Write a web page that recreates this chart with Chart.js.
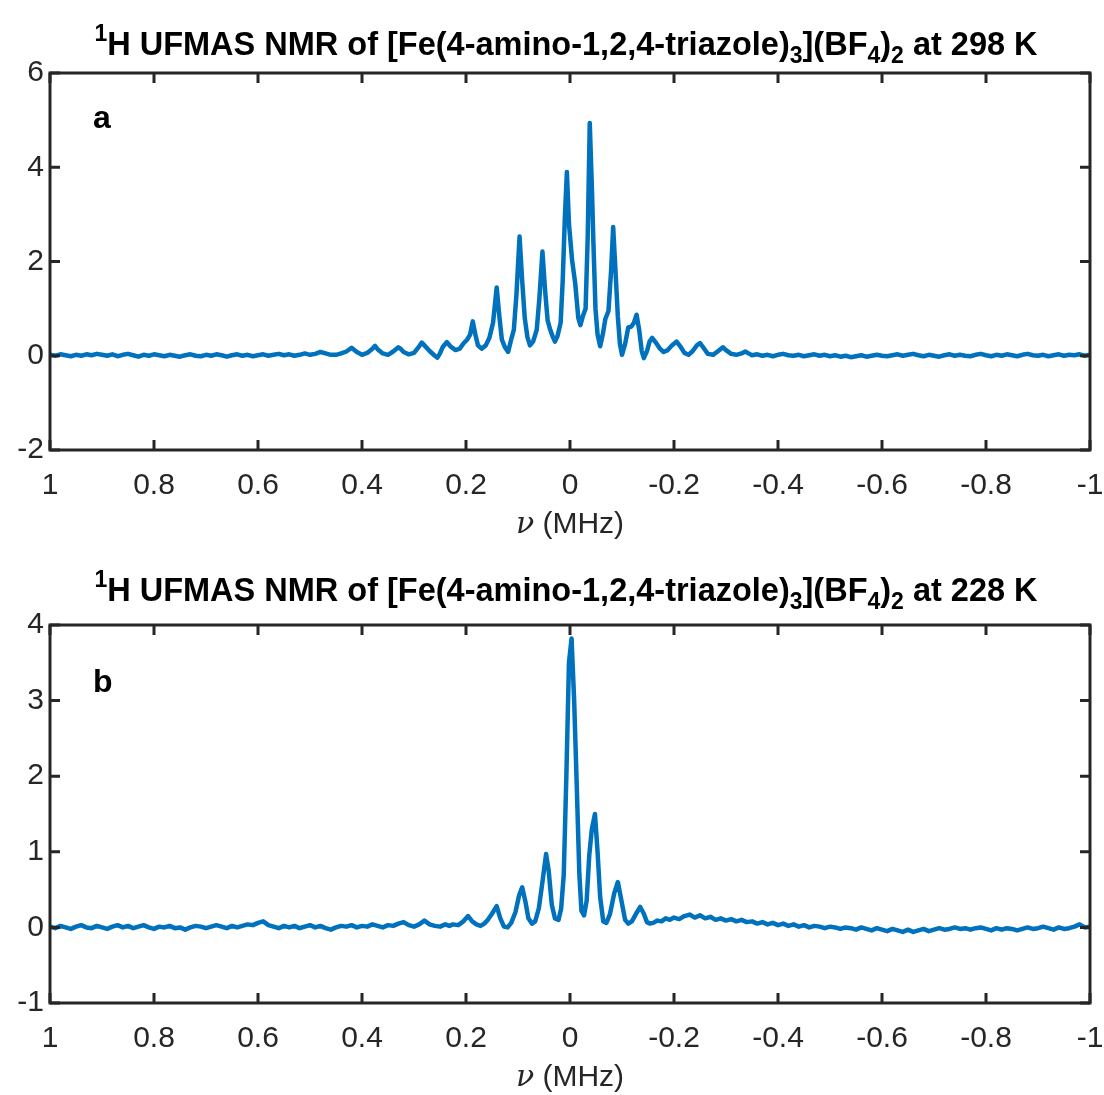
<!DOCTYPE html>
<html>
<head>
<meta charset="utf-8">
<script src="https://cdn.jsdelivr.net/npm/chart.js@4.4.0/dist/chart.umd.min.js"></script>
<style>
  body { margin: 0; background: #fff; }
  .panel { position: relative; width: 1104px; }
  canvas { display: block; }
</style>
</head>
<body>
<div class="panel" style="height:548px"><canvas id="chartA" width="1104" height="548"></canvas></div>
<div class="panel" style="height:547px"><canvas id="chartB" width="1104" height="547"></canvas></div>
<script>
// Axis ticks
const xTicks = [1, 0.8, 0.6, 0.4, 0.2, 0, -0.2, -0.4, -0.6, -0.8, -1];
const xTickLabels = ['1', '0.8', '0.6', '0.4', '0.2', '0', '-0.2', '-0.4', '-0.6', '-0.8', '-1'];
const yTicksA = [-2, 0, 2, 4, 6];
const yTicksB = [-1, 0, 1, 2, 3, 4];

// Spectrum a: 298 K (frequency in MHz, intensity)
const nuA = [
  1.00, 0.99, 0.98, 0.97, 0.96, 0.95, 0.94, 0.93, 0.92, 0.91, 0.90, 0.89, 0.88, 0.87, 0.86, 0.85, 0.84, 0.83, 0.82, 0.81,
  0.80, 0.79, 0.78, 0.77, 0.76, 0.75, 0.74, 0.73, 0.72, 0.71, 0.70, 0.69, 0.68, 0.67, 0.66, 0.65, 0.64, 0.63, 0.62, 0.61,
  0.60, 0.59, 0.58, 0.57, 0.56, 0.55, 0.54, 0.53, 0.52, 0.51, 0.50, 0.49, 0.48, 0.47, 0.46,
  0.45, 0.44, 0.43, 0.42, 0.41, 0.40, 0.39, 0.38, 0.375, 0.37, 0.36, 0.35, 0.34, 0.33, 0.325, 0.32, 0.31, 0.30,
  0.29, 0.285, 0.28, 0.27, 0.26, 0.255, 0.25, 0.245, 0.237, 0.23, 0.22, 0.212, 0.205, 0.198, 0.192, 0.187, 0.182,
  0.177, 0.17, 0.162, 0.155, 0.148, 0.141, 0.136, 0.131, 0.125, 0.119, 0.113, 0.108, 0.103, 0.097, 0.092, 0.087,
  0.082, 0.077, 0.071, 0.064, 0.059, 0.053, 0.048, 0.043, 0.038, 0.033, 0.029, 0.024, 0.018, 0.014, 0.010, 0.006,
  0.002, -0.004, -0.010, -0.016, -0.020, -0.025, -0.030, -0.034, -0.038, -0.042, -0.045, -0.049, -0.053, -0.058,
  -0.063, -0.068, -0.074, -0.079, -0.083, -0.087, -0.092, -0.096, -0.100, -0.106, -0.112, -0.118, -0.123, -0.128,
  -0.133, -0.138, -0.142, -0.148, -0.153, -0.158, -0.165, -0.173, -0.180, -0.188, -0.196, -0.205, -0.212, -0.22,
  -0.228, -0.236, -0.244, -0.250, -0.256, -0.265, -0.275, -0.285, -0.294, -0.30, -0.31, -0.32, -0.33, -0.337,
  -0.345, -0.35,
  -0.36, -0.37, -0.38, -0.39, -0.40, -0.41, -0.42, -0.43, -0.44, -0.45, -0.46, -0.47, -0.48, -0.49, -0.50,
  -0.51, -0.52, -0.53, -0.54, -0.55, -0.56, -0.57, -0.58, -0.59, -0.60, -0.61, -0.62, -0.63, -0.64, -0.65,
  -0.66, -0.67, -0.68, -0.69, -0.70, -0.71, -0.72, -0.73, -0.74, -0.75, -0.76, -0.77, -0.78, -0.79, -0.80,
  -0.81, -0.82, -0.83, -0.84, -0.85, -0.86, -0.87, -0.88, -0.89, -0.90, -0.91, -0.92, -0.93, -0.94, -0.95,
  -0.96, -0.97, -0.98, -0.99, -1.00
];
const intA = [
  0.02, 0.00, 0.03, 0.01, -0.01, 0.02, 0.00, 0.03, 0.01, 0.04, 0.02, 0.00, 0.03, -0.01, 0.02, 0.04, 0.01, -0.02, 0.02, 0.00,
  0.03, 0.01, -0.01, 0.02, 0.00, -0.02, 0.01, 0.03, 0.00, -0.01, 0.02, 0.00, 0.03, 0.01, -0.02, 0.01, 0.03, 0.00, 0.02, -0.01,
  0.01, 0.03, 0.00, 0.02, 0.04, 0.01, 0.03, 0.00, 0.02, 0.05, 0.02, 0.04, 0.08, 0.05, 0.02,
  0.02, 0.05, 0.09, 0.17, 0.08, 0.02, 0.06, 0.15, 0.21, 0.14, 0.05, 0.02, 0.09, 0.18, 0.14, 0.08, 0.03, 0.06,
  0.20, 0.28, 0.22, 0.10, 0.00, -0.04, 0.05, 0.18, 0.29, 0.20, 0.12, 0.15, 0.26, 0.34, 0.45, 0.73, 0.45,
  0.22, 0.15, 0.22, 0.38, 0.70, 1.45, 0.85, 0.34, 0.18, 0.08, 0.35, 0.55, 1.30, 2.53, 1.60, 0.80,
  0.40, 0.22, 0.30, 0.55, 1.20, 2.21, 1.40, 0.75, 0.55, 0.40, 0.30, 0.42, 0.70, 1.60, 2.90, 3.90,
  2.80, 2.03, 1.54, 0.80, 0.65, 0.85, 1.00, 2.50, 4.94, 3.60, 2.40, 1.00, 0.45, 0.20,
  0.45, 0.78, 0.95, 1.80, 2.73, 1.90, 0.83, 0.25, 0.02, 0.25, 0.60, 0.62, 0.70, 0.87,
  0.55, 0.10, -0.05, 0.10, 0.30, 0.38, 0.28, 0.15, 0.08, 0.12, 0.22, 0.30, 0.20, 0.06,
  0.02, 0.10, 0.22, 0.27, 0.18, 0.04, 0.02, 0.10, 0.18, 0.12, 0.04, 0.02, 0.05, 0.09,
  0.04, 0.01,
  0.03, 0.00, 0.02, -0.01, 0.02, 0.04, 0.01, 0.00, 0.02, -0.01, 0.01, 0.03, 0.00, 0.02, -0.01,
  0.01, -0.02, 0.00, -0.03, -0.01, 0.01, -0.02, 0.00, 0.02, 0.00, -0.01, 0.01, 0.03, 0.00, 0.02,
  0.04, 0.01, -0.01, 0.02, 0.00, -0.02, 0.01, 0.03, 0.00, 0.02, 0.00, -0.01, 0.02, 0.04, 0.01,
  -0.01, 0.02, 0.00, 0.03, 0.01, -0.01, 0.02, 0.04, 0.01, 0.00, 0.02, -0.01, 0.01, 0.03, 0.00,
  0.02, 0.01, 0.03, 0.00, 0.02
];

// Spectrum b: 228 K
const nuB = [
  1.00, 0.99, 0.98, 0.97, 0.96, 0.95, 0.94, 0.93, 0.92, 0.91, 0.90, 0.89, 0.88, 0.87, 0.86, 0.85, 0.84, 0.83, 0.82, 0.81,
  0.80, 0.79, 0.78, 0.77, 0.76, 0.75, 0.74, 0.73, 0.72, 0.71, 0.70, 0.69, 0.68, 0.67, 0.66, 0.65, 0.64, 0.63, 0.62, 0.61,
  0.60, 0.59, 0.58, 0.57, 0.56, 0.55, 0.54, 0.53, 0.52, 0.51, 0.50, 0.49, 0.48, 0.47, 0.46, 0.45, 0.44, 0.43, 0.42, 0.41,
  0.40, 0.39, 0.38, 0.37, 0.36, 0.35, 0.34, 0.33, 0.32, 0.31, 0.30, 0.29, 0.28, 0.27, 0.26,
  0.25, 0.24, 0.232, 0.225, 0.215, 0.205, 0.196, 0.188, 0.18, 0.172, 0.165, 0.158, 0.150, 0.141, 0.134, 0.127,
  0.12, 0.113, 0.105, 0.098, 0.092, 0.086, 0.08, 0.073, 0.067, 0.06, 0.053, 0.046, 0.041, 0.035, 0.029, 0.022,
  0.017, 0.012, 0.007, 0.002, -0.003, -0.008, -0.013, -0.018, -0.022, -0.027, -0.032, -0.037, -0.042, -0.048,
  -0.053, -0.058, -0.064, -0.07, -0.077, -0.085, -0.092, -0.099, -0.106, -0.112, -0.119, -0.127, -0.135, -0.142,
  -0.148, -0.154, -0.16, -0.168, -0.176, -0.184, -0.192,
  -0.20, -0.21, -0.22, -0.23, -0.24, -0.25, -0.26, -0.27, -0.28, -0.29, -0.30, -0.31, -0.32, -0.33, -0.34,
  -0.35, -0.36, -0.37, -0.38, -0.39, -0.40, -0.41, -0.42, -0.43, -0.44, -0.45, -0.46, -0.47, -0.48, -0.49,
  -0.50, -0.51, -0.52, -0.53, -0.54, -0.55, -0.56, -0.57, -0.58, -0.59, -0.60, -0.61, -0.62, -0.63, -0.64,
  -0.65, -0.66, -0.67, -0.68, -0.69, -0.70, -0.71, -0.72, -0.73, -0.74, -0.75, -0.76, -0.77, -0.78, -0.79,
  -0.80, -0.81, -0.82, -0.83, -0.84, -0.85, -0.86, -0.87, -0.88, -0.89, -0.90, -0.91, -0.92, -0.93, -0.94,
  -0.95, -0.96, -0.97, -0.98, -0.99, -1.00
];
const intB = [
  0.01, -0.01, 0.02, 0.00, -0.02, 0.01, 0.03, 0.00, -0.01, 0.02, 0.00, -0.02, 0.01, 0.03, 0.00, 0.02, -0.01, 0.01, 0.03, 0.00,
  -0.02, 0.01, 0.00, 0.02, -0.01, 0.00, -0.03, 0.00, 0.02, 0.01, -0.01, 0.01, 0.03, 0.01, -0.01, 0.02, 0.00, 0.02, 0.04, 0.03,
  0.06, 0.08, 0.03, 0.01, -0.01, 0.02, 0.00, 0.02, -0.01, 0.01, 0.03, 0.00, 0.02, -0.01, -0.03, 0.00, 0.02, 0.01, 0.03, 0.00,
  0.02, 0.01, 0.04, 0.02, 0.00, 0.03, 0.02, 0.05, 0.07, 0.03, 0.01, 0.04, 0.09, 0.04, 0.02,
  0.01, 0.04, 0.02, 0.04, 0.03, 0.08, 0.15, 0.08, 0.04, 0.02, 0.05, 0.10, 0.18, 0.28, 0.12, 0.01,
  0.00, 0.06, 0.20, 0.42, 0.53, 0.35, 0.12, 0.05, 0.08, 0.25, 0.60, 0.97, 0.75, 0.30, 0.12, 0.10,
  0.25, 0.70, 2.00, 3.50, 3.82, 3.00, 1.87, 0.70, 0.22, 0.16, 0.35, 0.95, 1.30, 1.50,
  1.00, 0.40, 0.08, 0.06, 0.18, 0.45, 0.60, 0.35, 0.10, 0.05, 0.08, 0.18, 0.27, 0.18,
  0.07, 0.05, 0.06, 0.09, 0.08, 0.12, 0.10,
  0.13, 0.11, 0.15, 0.17, 0.13, 0.16, 0.12, 0.14, 0.10, 0.12, 0.09, 0.11, 0.08, 0.10, 0.07,
  0.08, 0.05, 0.07, 0.04, 0.06, 0.03, 0.05, 0.02, 0.04, 0.01, 0.03, 0.00, 0.02, 0.01, -0.01,
  0.01, 0.00, -0.02, 0.00, -0.01, -0.03, 0.00, -0.02, -0.04, -0.01, -0.03, -0.05, -0.02, -0.04, -0.06,
  -0.03, -0.06, -0.04, -0.02, -0.05, -0.03, -0.01, -0.03, -0.02, 0.00, -0.02, -0.01, -0.03, -0.01, 0.00,
  -0.02, -0.04, -0.01, -0.03, -0.01, -0.02, -0.04, -0.02, 0.00, -0.02, -0.01, 0.01, -0.01, -0.03, 0.00,
  -0.02, -0.01, 0.01, 0.04, 0.00, 0.01
];

const LINE_COLOR = '#0072BD';
const AXIS_COLOR = '#262626';
const SANS = '"Liberation Sans", Arial, Helvetica, sans-serif';
const LABEL_SIZE = 30;

/**
 * Title with super/subscripts, drawn centred above the plot box
 */
function drawTitle(ctx, parts, cx, baseline) {
    const big = 'bold 32.5px ' + SANS;
    const small = 'bold 23px ' + SANS;
    let total = 0;
    parts.forEach(p => {
        ctx.font = p.pos ? small : big;
        p.w = ctx.measureText(p.t).width;
        total += p.w;
    });
    let x = cx - 4 - total / 2;
    ctx.fillStyle = '#000';
    ctx.textAlign = 'left';
    ctx.textBaseline = 'alphabetic';
    parts.forEach(p => {
        ctx.font = p.pos ? small : big;
        const dy = p.pos === 'sup' ? -14 : (p.pos === 'sub' ? 8 : 0);
        ctx.fillText(p.t, x, baseline + dy);
        x += p.w;
    });
}

/**
 * Box, inward ticks, panel letter and axis label (MATLAB look)
 */
const matlabFrame = {
    id: 'matlabFrame',
    afterDraw(chart, args, opts) {
        const { ctx, chartArea: a, scales } = chart;
        ctx.save();
        ctx.strokeStyle = AXIS_COLOR;
        ctx.lineWidth = 3;
        const tick = 10;
        ctx.beginPath();
        scales.x.ticks.forEach(t => {
            const px = scales.x.getPixelForValue(t.value);
            ctx.moveTo(px, a.bottom); ctx.lineTo(px, a.bottom - tick);
            ctx.moveTo(px, a.top); ctx.lineTo(px, a.top + tick);
        });
        scales.y.ticks.forEach(t => {
            const py = scales.y.getPixelForValue(t.value);
            ctx.moveTo(a.left, py); ctx.lineTo(a.left + tick, py);
            ctx.moveTo(a.right, py); ctx.lineTo(a.right - tick, py);
        });
        ctx.stroke();
        ctx.strokeRect(a.left, a.top, a.right - a.left, a.bottom - a.top);

        // panel letter
        ctx.fillStyle = '#000';
        ctx.font = 'bold 32px ' + SANS;
        ctx.textAlign = 'left';
        ctx.textBaseline = 'alphabetic';
        ctx.fillText(opts.letter, a.left + 43, a.top + opts.letterDy);

        // x axis label: italic nu + (MHz)
        ctx.fillStyle = AXIS_COLOR;
        const cx = (a.left + a.right) / 2;
        const nuFont = 'italic ' + LABEL_SIZE + 'px "DejaVu Serif", "Liberation Serif", serif';
        const txtFont = LABEL_SIZE + 'px ' + SANS;
        ctx.font = nuFont;
        const nuW = ctx.measureText('\u03bd').width;
        ctx.font = txtFont;
        const restW = ctx.measureText(' (MHz)').width;
        const x = cx - (nuW + restW) / 2;
        const by = a.bottom + opts.labelDy;
        ctx.font = nuFont;
        ctx.fillText('\u03bd', x, by);
        ctx.font = txtFont;
        ctx.fillText(' (MHz)', x + nuW, by);

        drawTitle(ctx, opts.title, cx, opts.titleBaseline);
        ctx.restore();
    }
};

function makeSpectrum(canvasId, nu, intensity, yTicks, frame) {
    const ctx = document.getElementById(canvasId);
    return new Chart(ctx, {
        type: 'line',
        data: {
            datasets: [{
                data: nu.map((v, i) => ({ x: v, y: intensity[i] })),
                borderColor: LINE_COLOR,
                borderWidth: 4.5,
                borderJoinStyle: 'round',
                pointRadius: 0,
                tension: 0,
                fill: false
            }]
        },
        options: {
            responsive: false,
            animation: false,
            layout: { padding: { left: 0, right: 14, top: frame.top, bottom: 0 } },
            plugins: {
                legend: { display: false },
                tooltip: { enabled: false },
                matlabFrame: frame
            },
            scales: {
                x: {
                    type: 'linear',
                    reverse: true,
                    min: -1,
                    max: 1,
                    afterBuildTicks: s => { s.ticks = xTicks.map(v => ({ value: v })); },
                    afterFit: s => {
                        s.height = frame.xAxisHeight;
                        s.paddingLeft = 0;
                        s.paddingRight = 0;
                    },
                    grid: { display: false, drawTicks: false },
                    border: { display: false },
                    ticks: {
                        autoSkip: false,
                        maxRotation: 0,
                        padding: 18,
                        color: AXIS_COLOR,
                        font: { family: SANS, size: LABEL_SIZE },
                        callback: v => xTickLabels[xTicks.indexOf(v)]
                    }
                },
                y: {
                    type: 'linear',
                    min: yTicks[0],
                    max: yTicks[yTicks.length - 1],
                    afterBuildTicks: s => { s.ticks = yTicks.map(v => ({ value: v })); },
                    afterFit: s => {
                        s.width = 50;
                        s.paddingTop = 0;
                        s.paddingBottom = 0;
                    },
                    grid: { display: false, drawTicks: false },
                    border: { display: false },
                    ticks: {
                        padding: 6,
                        color: AXIS_COLOR,
                        font: { family: SANS, size: LABEL_SIZE },
                        callback: v => String(v)
                    }
                }
            }
        },
        plugins: [matlabFrame]
    });
}

makeSpectrum('chartA', nuA, intA, yTicksA, {
    top: 73,
    xAxisHeight: 98,
    letter: 'a',
    letterDy: 55,
    labelDy: 83,
    titleBaseline: 55,
    title: [
        { t: '1', pos: 'sup' }, { t: 'H UFMAS NMR of [Fe(4-amino-1,2,4-triazole)' }, { t: '3', pos: 'sub' },
        { t: '](BF' }, { t: '4', pos: 'sub' }, { t: ')' }, { t: '2', pos: 'sub' }, { t: ' at 298 K' }
    ]
});

makeSpectrum('chartB', nuB, intB, yTicksB, {
    top: 77,
    xAxisHeight: 92,
    letter: 'b',
    letterDy: 67,
    labelDy: 83,
    titleBaseline: 53,
    title: [
        { t: '1', pos: 'sup' }, { t: 'H UFMAS NMR of [Fe(4-amino-1,2,4-triazole)' }, { t: '3', pos: 'sub' },
        { t: '](BF' }, { t: '4', pos: 'sub' }, { t: ')' }, { t: '2', pos: 'sub' }, { t: ' at 228 K' }
    ]
});
</script>
</body>
</html>
